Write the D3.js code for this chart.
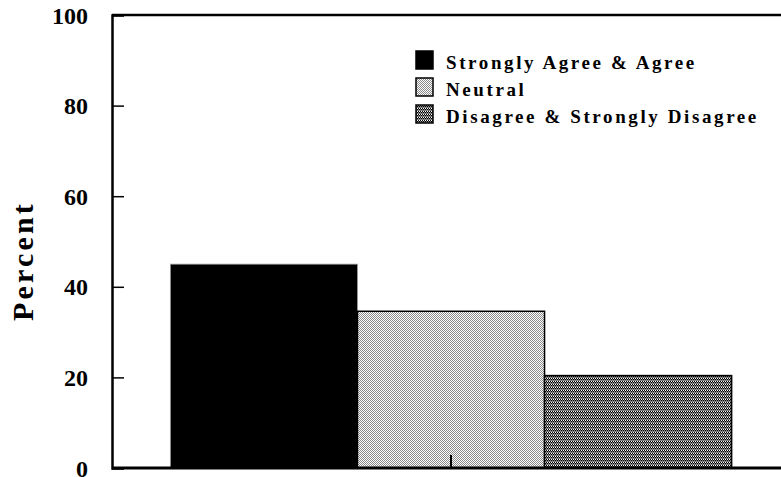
<!DOCTYPE html>
<html><head><meta charset="utf-8">
<script src="https://cdn.jsdelivr.net/npm/d3@7"></script>
<style>body{margin:0;background:#fff}</style>
</head><body>
<svg id="c" width="781" height="477"></svg>
<script>
const categories = [""];
const seriesNames = ["Strongly Agree & Agree", "Neutral", "Disagree & Strongly Disagree"];
const seriesValues = [45.0, 34.6, 20.4];
const yTicks = [0, 20, 40, 60, 80, 100];
const yTitle = "Percent";

(function(){
const svg = d3.select("#c");
const font = "'Liberation Serif','Times New Roman',serif";
const mLeft = 112, mRight = 790, mTop = 15, mBottom = 468;

const defs = svg.append("defs");
const p1 = defs.append("pattern").attr("id","pNeutral").attr("width",2).attr("height",2).attr("patternUnits","userSpaceOnUse");
p1.append("rect").attr("width",2).attr("height",2).attr("fill","#ffffff");
p1.append("rect").attr("x",0).attr("y",0).attr("width",1).attr("height",1).attr("fill","#8a8a8a");
p1.append("rect").attr("x",1).attr("y",1).attr("width",1).attr("height",1).attr("fill","#8a8a8a");
const p2 = defs.append("pattern").attr("id","pDis").attr("width",2).attr("height",3).attr("patternUnits","userSpaceOnUse");
p2.append("rect").attr("width",2).attr("height",3).attr("fill","#ffffff");
p2.append("rect").attr("x",0).attr("y",0).attr("width",1).attr("height",1).attr("fill","#000");
p2.append("rect").attr("x",1).attr("y",1).attr("width",1).attr("height",1).attr("fill","#000");
p2.append("rect").attr("x",0).attr("y",2).attr("width",2).attr("height",1).attr("fill","#808080");
p2.append("rect").attr("x",0).attr("y",1).attr("width",1).attr("height",1).attr("fill","#808080");
const fills = ["#000000","url(#pNeutral)","url(#pDis)"];

const y = d3.scaleLinear().domain([0,100]).range([mBottom, mTop]);
const x0 = d3.scaleBand().domain(categories).range([mLeft, mRight]).paddingInner(0).paddingOuter(0.104);
const x1 = d3.scaleBand().domain(seriesNames).range([0, x0.bandwidth()]).padding(0);

const g = svg.append("g");
categories.forEach(cat => {
  seriesNames.forEach((s, i) => {
    g.append("rect")
      .attr("x", x0(cat) + x1(s))
      .attr("y", y(seriesValues[i]))
      .attr("width", x1.bandwidth())
      .attr("height", y(0) - y(seriesValues[i]))
      .attr("fill", fills[i])
      .attr("stroke", i === 0 ? "#9a9a9a" : "#000")
      .attr("stroke-width", i === 0 ? 0.8 : 1.5);
  });
});

const yAxis = d3.axisLeft(y).tickValues(yTicks).tickSize(-12).tickPadding(0).tickFormat(d3.format("d"));
const ya = svg.append("g").attr("transform", `translate(${mLeft},0)`).call(yAxis);
ya.select(".domain").attr("stroke","#000").attr("stroke-width",2.5);
ya.selectAll(".tick line").attr("stroke","#000").attr("stroke-width",1.5);
ya.selectAll(".tick text").attr("x",-24).attr("dy","0.34em")
  .attr("font-family",font).attr("font-weight","bold").attr("font-size",24).attr("fill","#000");

const xAxis = d3.axisBottom(x0).tickSize(-13).tickFormat(() => "");
const xa = svg.append("g").attr("transform", `translate(0,${mBottom})`).call(xAxis);
xa.select(".domain").attr("stroke","#000").attr("stroke-width",3).attr("d", `M${mLeft},0H${mRight}`);
xa.selectAll(".tick line").attr("stroke","#000").attr("stroke-width",2);

svg.append("line").attr("x1",mLeft).attr("x2",mRight).attr("y1",mTop).attr("y2",mTop)
  .attr("stroke","#000").attr("stroke-width",2.5);

svg.append("text").attr("transform","translate(33,261) rotate(-90)")
  .attr("text-anchor","middle").attr("font-family",font).attr("font-weight","bold")
  .attr("font-size",30).attr("letter-spacing",3.2).text(yTitle);

const lg = svg.append("g");
seriesNames.forEach((s, i) => {
  const yy = 51 + i * 27;
  lg.append("rect").attr("x",416).attr("y",yy).attr("width",17).attr("height",18)
    .attr("fill",fills[i]).attr("stroke","#000").attr("stroke-width",1.5);
  lg.append("text").attr("x",446).attr("y",yy+18).attr("font-family",font).attr("font-weight","bold")
    .attr("font-size",19).attr("letter-spacing",2.6).text(s);
});
})();
</script>
</body></html>
